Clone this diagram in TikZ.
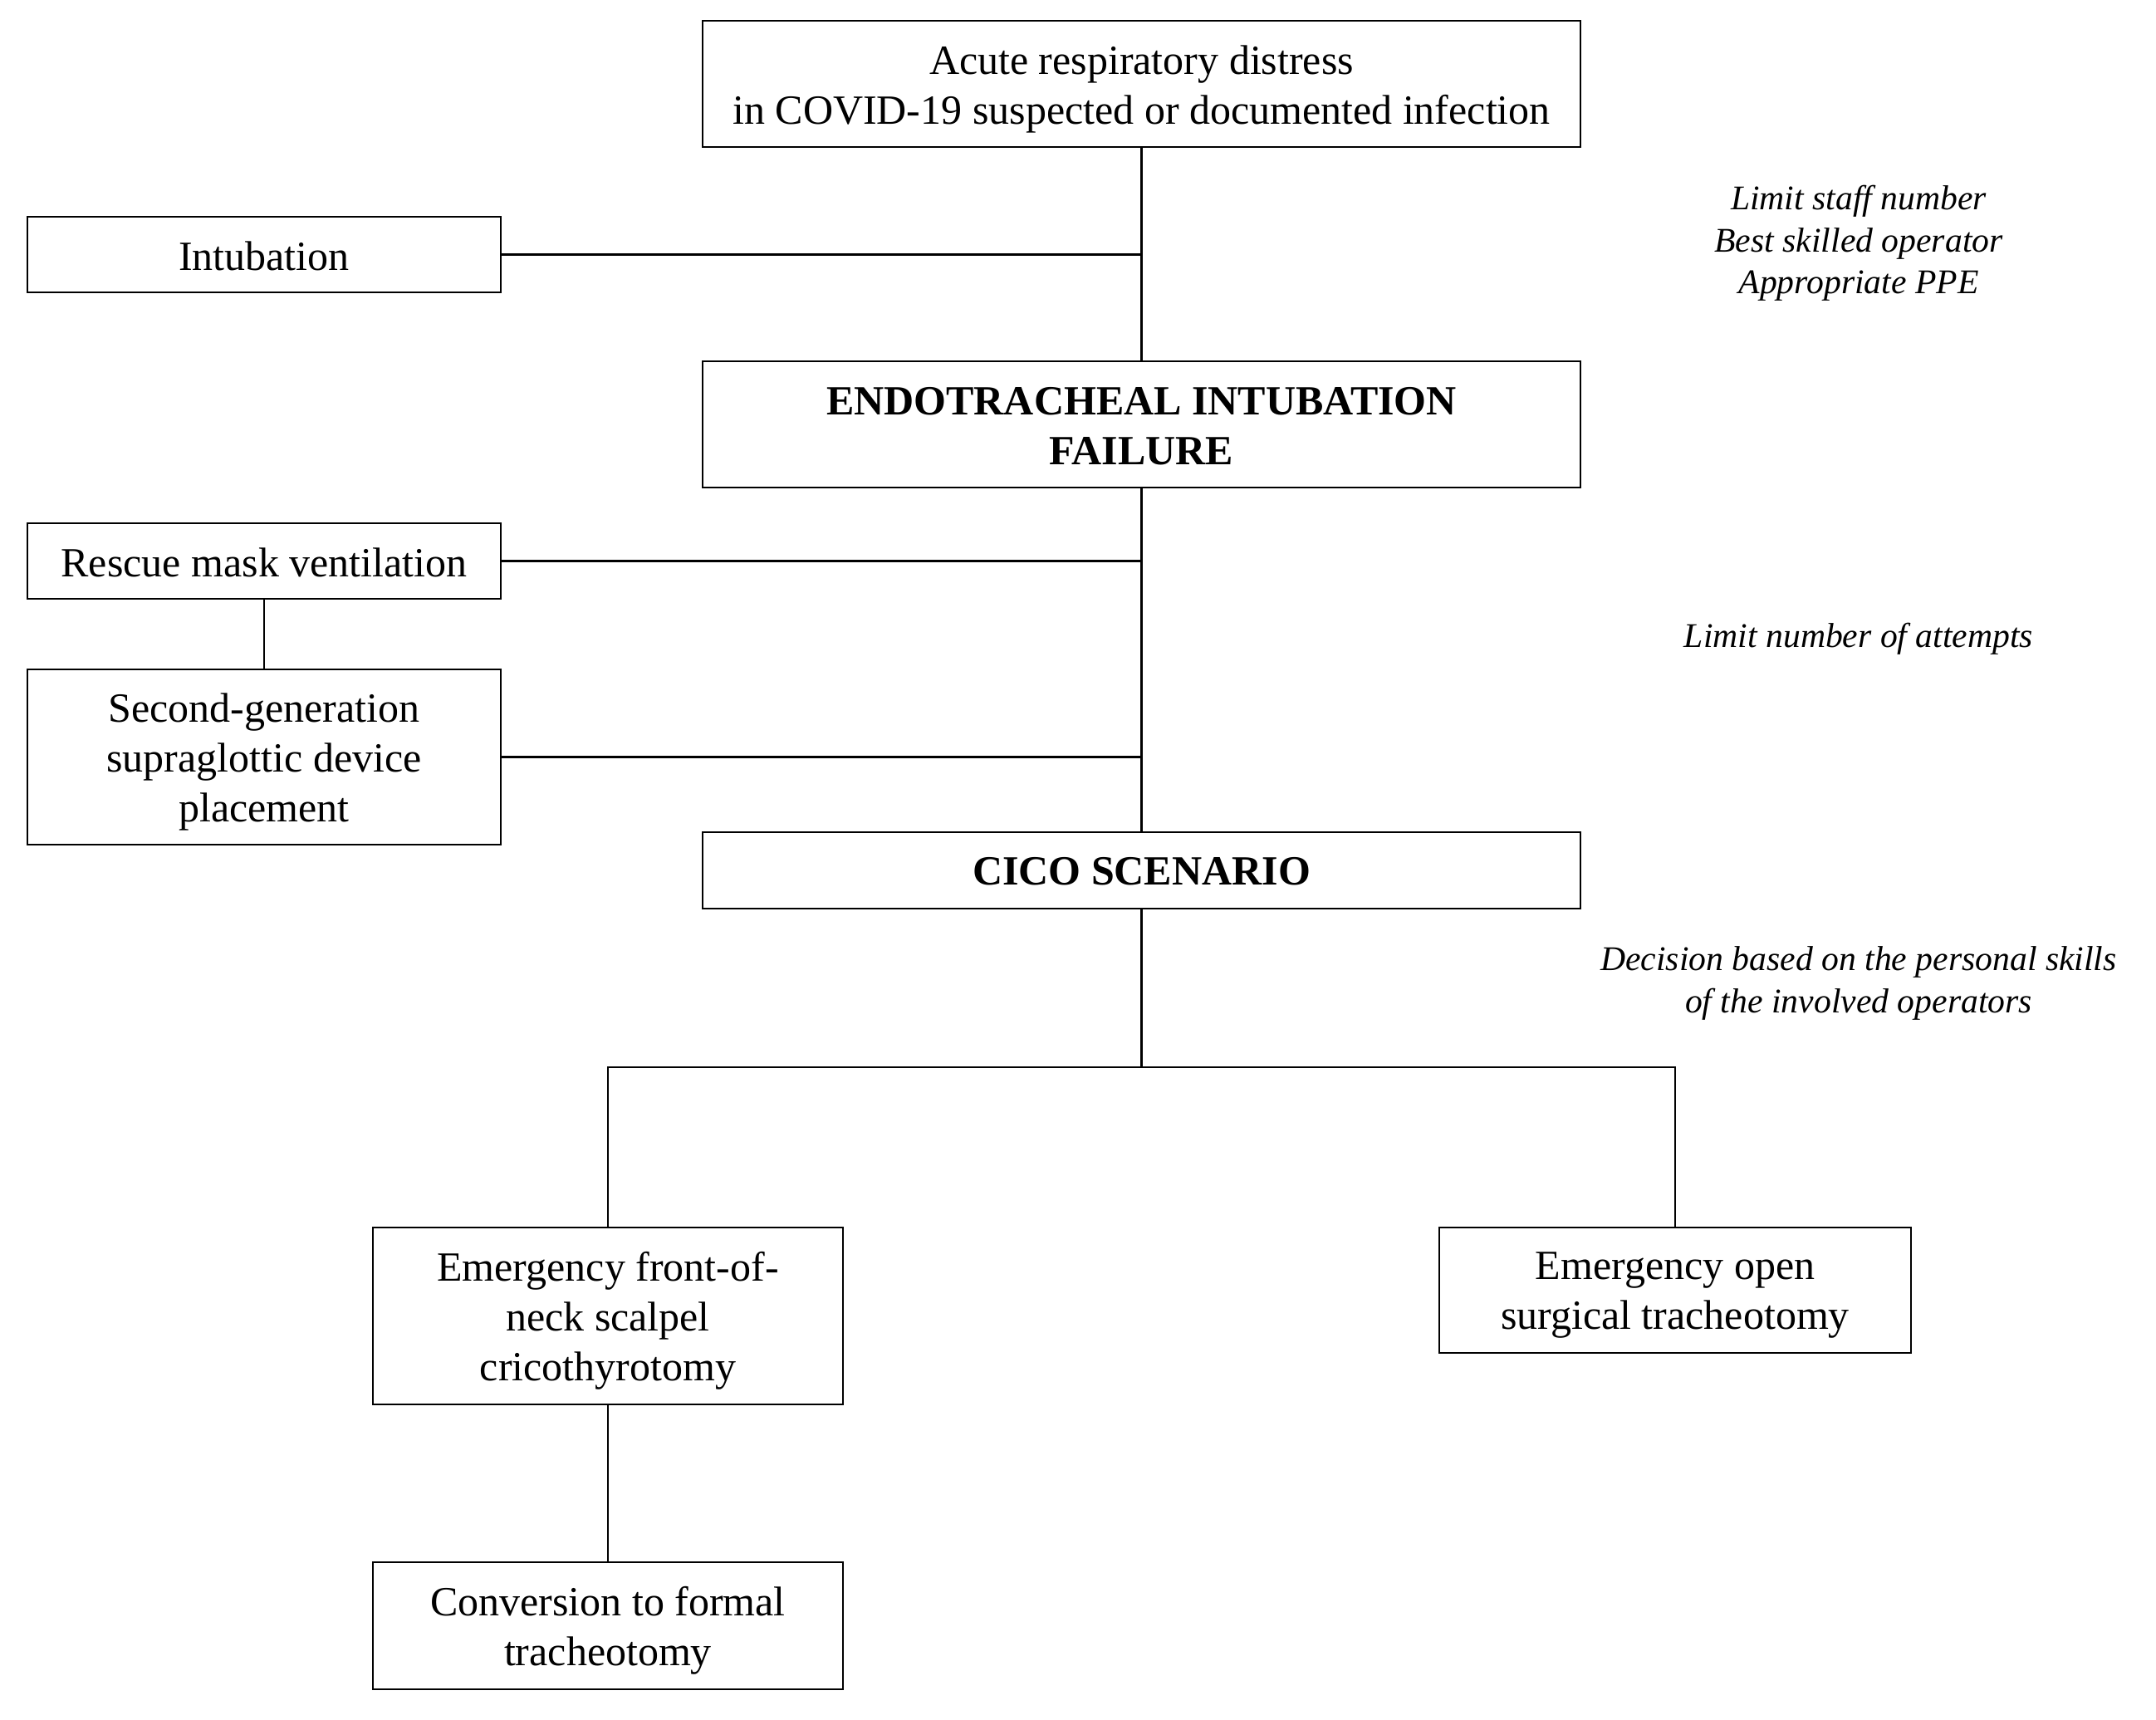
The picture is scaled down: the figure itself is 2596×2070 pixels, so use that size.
\documentclass[tikz,border=0pt]{standalone}
\usepackage{fontspec}
\setmainfont{Liberation Serif}
\begin{document}
\begin{tikzpicture}[x=0.24pt,y=-0.24pt,
  box/.style={draw,line width=0.7pt,inner sep=0pt},
  txt/.style={align=center,inner sep=0pt,font=\fontsize{12}{14.4}\selectfont},
  btxt/.style={txt,font=\fontsize{12}{14.4}\selectfont\bfseries},
  note/.style={align=center,inner sep=0pt,font=\fontsize{10}{12.1}\selectfont\itshape},
  conn/.style={line width=0.5pt}]
\useasboundingbox (0,0) rectangle (2596,2070);
\node[box,minimum width=253.68pt,minimum height=36.48pt] (top) at (1374.5,101) {};
\node[txt] (ttop) at ([yshift=-1.5pt]top.center) {Acute respiratory distress\\in COVID-19 suspected or documented infection};
\node[box,minimum width=136.8pt,minimum height=21.84pt] (intub) at (318,306.5) {};
\node[txt] (tintub) at ([yshift=-0.4pt]intub.center) {Intubation};
\node[box,minimum width=253.68pt,minimum height=36.48pt] (endo) at (1374.5,511) {};
\node[btxt] (tendo) at ([yshift=-0.6pt]endo.center) {ENDOTRACHEAL INTUBATION\\FAILURE};
\node[box,minimum width=136.8pt,minimum height=21.84pt] (rescue) at (318,675.5) {};
\node[txt] (trescue) at ([yshift=-0.4pt]rescue.center) {Rescue mask ventilation};
\node[box,minimum width=136.8pt,minimum height=50.64pt] (second) at (318,911.5) {};
\node[txt] (tsecond) at ([yshift=-1.5pt]second.center) {Second-generation\\supraglottic device\\placement};
\node[box,minimum width=253.68pt,minimum height=22.08pt] (cico) at (1374.5,1048) {};
\node[btxt] (tcico) at ([yshift=-0.3pt]cico.center) {CICO SCENARIO};
\node[box,minimum width=135.84pt,minimum height=51.12pt] (front) at (732,1584.5) {};
\node[txt] (tfront) at ([yshift=-1.5pt]front.center) {Emergency front-of-\\neck scalpel\\cricothyrotomy};
\node[box,minimum width=136.32pt,minimum height=36.24pt] (open) at (2017,1553.5) {};
\node[txt] (topen) at ([yshift=-1.5pt]open.center) {Emergency open\\surgical tracheotomy};
\node[box,minimum width=135.84pt,minimum height=36.72pt] (conv) at (732,1957.5) {};
\node[txt] (tconv) at ([yshift=-1.5pt]conv.center) {Conversion to formal\\tracheotomy};
\node[note] (n1) at (2238,293) {Limit staff number\\Best skilled operator\\Appropriate PPE};
\node[note] (n2) at (2238,769) {Limit number of attempts};
\node[note] (n3) at (2238,1184) {Decision based on the personal skills\\of the involved operators};
\coordinate (br) at (1374.5,1285);
\draw[conn] (top.south) -- (endo.north);
\draw[conn] (intub.east) -- (intub.east -| top.south);
\draw[conn] (endo.south) -- (cico.north);
\draw[conn] (rescue.east) -- (rescue.east -| endo.south);
\draw[conn] (second.east) -- (second.east -| endo.south);
\draw[conn] (rescue.south) -- (second.north);
\draw[conn] (cico.south) -- (br);
\draw[conn] (front.north) |- (br) -| (open.north);
\draw[conn] (front.south) -- (conv.north);
\end{tikzpicture}
\end{document}
